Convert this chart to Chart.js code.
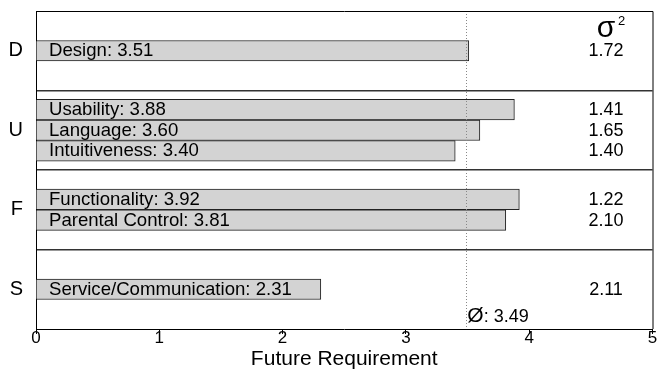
<!DOCTYPE html>
<html>
<head>
<meta charset="utf-8">
<script src="https://cdn.jsdelivr.net/npm/chart.js@4.4.1/dist/chart.umd.min.js"></script>
<style>
  body { margin: 0; background: #fff; }
  #myChart { display: block; }
</style>
</head>
<body>
<canvas id="myChart" width="660" height="372"></canvas>
<script>
// data
const groups = ["D", "U", "F", "S"];
const items = ["Design", "Usability", "Language", "Intuitiveness", "Functionality", "Parental Control", "Service/Communication"];
const itemGroup = ["D", "U", "U", "U", "F", "F", "S"];
const scores = [3.51, 3.88, 3.60, 3.40, 3.92, 3.81, 2.31];
const variances = ["1.72", "1.41", "1.65", "1.40", "1.22", "2.10", "2.11"];
const meanScore = 3.49;
const xTicks = [0, 1, 2, 3, 4, 5];

const FONT = "'Liberation Sans', Arial, Helvetica, sans-serif";
const ROW = 0.26; // row spacing inside a group, in group units

// place each item inside its group band
function rowPositions() {
  var pos = [];
  groups.forEach(function (g, gi) {
    var idx = [];
    itemGroup.forEach(function (ig, i) { if (ig === g) idx.push(i); });
    idx.forEach(function (i, k) {
      pos[i] = gi + 0.5 + (k - (idx.length - 1) / 2) * ROW;
    });
  });
  return pos;
}
const ypos = rowPositions();
const points = scores.map(function (v, i) { return { x: v, y: ypos[i] }; });

const overlay = {
  id: "overlay",
  afterDatasetsDraw: function (chart) {
    var c = chart.ctx, xs = chart.scales.x, ys = chart.scales.y, a = chart.chartArea;
    c.save();
    // mean line
    var mx = xs.getPixelForValue(meanScore);
    c.strokeStyle = "#888";
    c.lineWidth = 1;
    c.setLineDash([1, 2]);
    c.beginPath();
    c.moveTo(Math.round(mx) + 0.5, a.top);
    c.lineTo(Math.round(mx) + 0.5, a.bottom);
    c.stroke();
    c.setLineDash([]);

    // frame top + right
    c.strokeStyle = "#000";
    c.beginPath();
    c.moveTo(a.left, a.top + 0.5);
    c.lineTo(a.right + 0.5, a.top + 0.5);
    c.lineTo(a.right + 0.5, a.bottom);
    c.stroke();

    // bar labels and variances
    c.fillStyle = "#000";
    c.textBaseline = "alphabetic";
    var x0 = xs.getPixelForValue(0);
    var vx = 606;
    items.forEach(function (name, i) {
      var y = ys.getPixelForValue(ypos[i]) + 5.5;
      c.font = "18.6px " + FONT;
      c.textAlign = "left";
      c.fillText(name + ": " + scores[i].toFixed(2), x0 + 13, y);
      c.font = "18px " + FONT;
      c.textAlign = "center";
      c.fillText(variances[i], vx, y);
    });

    // sigma^2 header
    c.font = "30px " + FONT;
    c.textAlign = "center";
    c.fillText("σ", vx, a.top + 26);
    c.font = "13px " + FONT;
    c.textAlign = "left";
    c.fillText("2", vx + 12, a.top + 14);

    // mean label
    var ly = a.bottom - 7;
    c.font = "21px " + FONT;
    c.fillText("Ø", mx + 1, ly);
    var w = c.measureText("Ø").width;
    c.font = "18px " + FONT;
    c.fillText(": " + meanScore.toFixed(2), mx + 1 + w, ly);
    c.restore();
  }
};

const myChart = new Chart(document.getElementById("myChart").getContext("2d"), {
  type: "bar",
  data: {
    datasets: [
      {
        data: points,
        backgroundColor: "#d3d3d3",
        borderColor: "#222",
        borderWidth: 1,
        barThickness: 20.5,
      },
    ],
  },
  options: {
    indexAxis: "y",
    responsive: false,
    animation: false,
    layout: { padding: { top: 11, right: 7.5, left: 0, bottom: 0 } },
    plugins: { legend: { display: false }, tooltip: { enabled: false } },
    scales: {
      x: {
        type: "linear",
        min: 0,
        max: 5,
        afterBuildTicks: function (s) { s.ticks = xTicks.map(function (v) { return { value: v }; }); },
        afterFit: function (s) { s.height = 43; s.paddingLeft = 0; s.paddingRight = 0; },
        grid: { drawOnChartArea: false, drawTicks: true, tickLength: 5, color: "#000" },
        border: { color: "#000", width: 1 },
        ticks: { color: "#000", font: { family: FONT, size: 17 }, padding: -6, maxRotation: 0 },
        title: {
          display: true,
          text: "Future Requirement",
          color: "#000",
          font: { family: FONT, size: 21 },
          padding: { top: 0, bottom: 0 },
        },
      },
      y: {
        type: "linear",
        reverse: true,
        offset: false,
        min: 0,
        max: 4,
        afterBuildTicks: function (s) {
          var t = [];
          for (var v = 0; v <= 4; v += 0.5) t.push({ value: v });
          s.ticks = t;
        },
        afterFit: function (s) { s.width = 36; s.paddingTop = 0; s.paddingBottom = 0; },
        grid: {
          offset: false,
          drawTicks: false,
          lineWidth: 1.5,
          color: function (ctx) {
            var v = ctx.tick ? ctx.tick.value : 0;
            return v > 0 && v < 4 && v % 1 === 0 ? "#333" : "rgba(0,0,0,0)";
          },
        },
        border: { color: "#000", width: 1 },
        ticks: {
          color: "#000",
          font: { family: FONT, size: 20 },
          padding: 13,
          autoSkip: false,
          callback: function (v) { return v % 1 === 0.5 ? groups[Math.floor(v)] : ""; },
        },
      },
    },
  },
  plugins: [overlay],
});
</script>
</body>
</html>
